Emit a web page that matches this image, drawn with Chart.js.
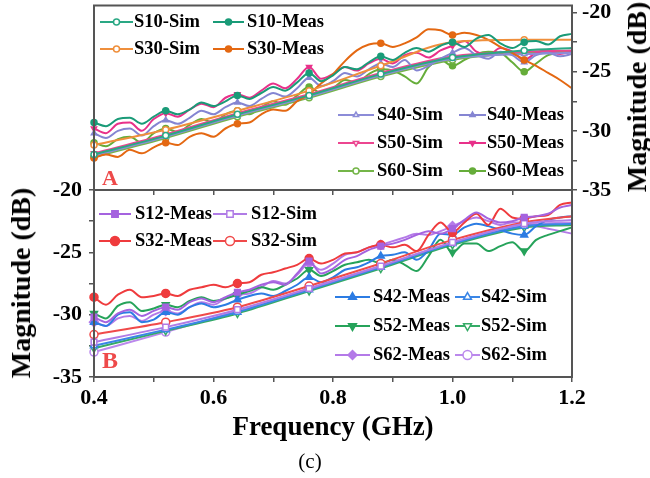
<!DOCTYPE html>
<html>
<head>
<meta charset="utf-8">
<title>S-parameter magnitude</title>
<script src="https://cdn.jsdelivr.net/npm/chart.js@4.4.1/dist/chart.umd.min.js"></script>
<style>
  html, body { margin: 0; padding: 0; background: #fff; }
  #wrap { position: relative; width: 650px; height: 478px; overflow: hidden; }
  #wrap canvas { position: absolute; left: 0; top: 0; }
  .vtitle {
    position: absolute;
    font: bold 28px "Liberation Serif", "Times New Roman", serif;
    line-height: 1;
    white-space: nowrap;
    transform: translate(-50%, -50%) rotate(-90deg);
  }
  #caption {
    position: absolute; left: 310px; top: 461px;
    transform: translate(-50%, -50%);
    font: 21px "Liberation Serif", "Times New Roman", serif;
  }
</style>
</head>
<body>
<div id="wrap">
  <canvas id="chartB" width="650" height="478"></canvas>
  <canvas id="chartA" width="650" height="200"></canvas>
  <div class="vtitle" style="left:637px; top:97px">Magnitude (dB)</div>
  <div class="vtitle" style="left:21px; top:283px">Magnitude (dB)</div>
  <div id="caption">(c)</div>
</div>
<script>
const FONT = '"Liberation Serif", "Times New Roman", serif';

// frequency samples (GHz) of the measured traces and of the simulated ones
const freq = [0.40, 0.42, 0.44, 0.46, 0.48, 0.50, 0.52, 0.54, 0.56, 0.58,
              0.60, 0.62, 0.64, 0.66, 0.68, 0.70, 0.72, 0.74, 0.76, 0.78,
              0.80, 0.82, 0.84, 0.86, 0.88, 0.90, 0.92, 0.94, 0.96, 0.98,
              1.00, 1.02, 1.04, 1.06, 1.08, 1.10, 1.12, 1.14, 1.16, 1.18, 1.20];
const simFreq = [0.40, 0.52, 0.64, 0.76, 0.88, 1.00, 1.12, 1.20];

const xTickLabels = ['0.4', '0.6', '0.8', '1.0', '1.2'];
const yTickLabels = ['-20', '-25', '-30', '-35'];

// panel A (dB)
const s10Sim = [-32.0, -30.4, -28.6, -27.0, -25.2, -23.8, -23.2, -23.0];
const s30Sim = [-31.2, -29.9, -28.3, -26.6, -24.5, -22.5, -22.3, -22.3];
const s40Sim = [-32.1, -30.5, -28.7, -27.1, -25.3, -23.9, -23.5, -23.4];
const s50Sim = [-31.9, -30.3, -28.5, -26.9, -25.1, -23.7, -23.3, -23.2];
const s60Sim = [-32.2, -30.6, -28.8, -27.2, -25.4, -24.0, -23.4, -23.3];

const s10Meas = [-29.3, -29.6, -29.0, -28.9, -29.4, -28.8, -28.3, -28.6, -28.2, -27.6,
                 -27.9, -27.5, -27.0, -27.3, -26.8, -26.3, -26.6, -25.9, -25.1, -25.8,
                 -25.3, -24.6, -24.8, -24.2, -23.7, -24.0, -23.4, -23.0, -23.3, -22.8,
                 -22.5, -22.9, -22.2, -21.9, -22.6, -23.0, -22.5, -22.4, -22.7, -22.0, -21.8];
const s30Meas = [-32.3, -32.0, -32.2, -31.6, -31.9, -31.4, -31.0, -31.2, -30.5, -30.2,
                 -30.5, -29.8, -29.4, -29.3, -28.6, -28.2, -28.3, -27.5, -26.9, -26.0,
                 -25.2, -24.1, -23.2, -22.7, -22.6, -22.9, -22.6, -22.1, -21.4, -21.5,
                 -21.9, -21.7, -21.9, -22.3, -22.9, -23.4, -24.0, -24.5, -25.1, -25.7, -26.4];
const s40Meas = [-30.2, -30.6, -30.0, -29.8, -30.4, -29.6, -29.1, -29.4, -28.9, -28.3,
                 -28.6, -28.0, -27.6, -27.9, -27.3, -26.8, -27.1, -26.4, -25.5, -26.2,
                 -25.8, -25.1, -25.4, -24.8, -24.3, -24.6, -24.0, -24.9, -24.5, -23.9,
                 -23.4, -23.0, -23.6, -23.9, -23.3, -23.6, -24.2, -23.6, -23.4, -23.7, -23.5];
const s50Meas = [-29.8, -30.2, -29.4, -29.3, -30.0, -29.0, -28.5, -28.8, -28.2, -27.7,
                 -28.0, -27.2, -26.9, -27.2, -26.6, -26.0, -26.4, -25.6, -24.6, -25.6,
                 -25.2, -24.6, -24.9, -24.3, -23.9, -24.3, -23.6, -23.4, -23.8, -23.2,
                 -22.8, -22.4, -23.3, -23.6, -23.0, -23.3, -24.0, -23.4, -23.2, -23.5, -23.3];
const s60Meas = [-31.0, -31.3, -30.7, -30.5, -31.0, -30.2, -29.8, -30.1, -29.5, -29.0,
                 -29.3, -28.6, -28.3, -28.6, -28.0, -27.5, -27.8, -27.0, -26.3, -26.8,
                 -26.4, -25.7, -25.9, -25.2, -24.8, -24.9, -25.4, -26.0, -24.6, -24.0,
                 -24.5, -24.0, -23.5, -23.3, -23.4, -24.2, -25.0, -24.3, -23.6, -23.4, -23.3];

// panel B (dB)
const s12Sim = [-32.2, -31.0, -29.6, -27.9, -26.1, -24.2, -22.7, -22.4];
const s32Sim = [-31.6, -30.6, -29.4, -27.7, -25.9, -24.0, -22.6, -22.1];
const s42Sim = [-32.5, -31.2, -29.8, -28.0, -26.2, -24.3, -22.9, -22.7];
const s52Sim = [-32.7, -31.3, -29.9, -28.1, -26.3, -24.4, -23.0, -22.8];
const s62Sim = [-33.0, -31.4, -29.7, -27.9, -26.1, -24.2, -22.8, -22.6];

const s12Meas = [-30.2, -30.6, -29.9, -29.6, -30.1, -29.7, -29.4, -29.6, -29.0, -28.7,
                 -29.0, -28.6, -28.2, -28.0, -27.6, -27.4, -27.6, -26.7, -25.7, -26.7,
                 -26.3, -25.6, -25.3, -24.8, -24.5, -24.3, -24.0, -23.6, -23.3, -23.5,
                 -23.1, -22.4, -21.8, -22.3, -22.6, -22.5, -22.2, -22.1, -21.9, -21.4, -21.2];
const s32Meas = [-28.6, -29.2, -28.4, -28.0, -28.6, -28.5, -28.3, -28.5, -28.0, -27.8,
                 -27.6, -27.8, -27.5, -27.4, -26.8, -26.6, -26.3, -26.0, -25.5, -25.9,
                 -25.6, -25.1, -25.0, -24.6, -24.4, -24.6, -24.4, -24.9, -23.6, -22.6,
                 -23.4, -22.6, -21.9, -22.8, -21.5, -22.2, -22.3, -22.1, -22.0, -21.2, -21.0];
const s42Meas = [-30.6, -30.9, -30.0, -29.8, -30.6, -30.4, -29.8, -30.0, -29.4, -29.1,
                 -29.4, -29.2, -28.8, -28.5, -28.3, -28.5, -28.1, -27.6, -27.0, -27.4,
                 -27.0, -26.4, -26.2, -25.8, -25.3, -25.2, -25.0, -25.6, -24.8, -23.5,
                 -23.6, -23.0, -22.7, -22.9, -23.2, -23.5, -23.6, -22.9, -22.4, -22.2, -22.1];
const s52Meas = [-29.9, -30.3, -29.3, -29.0, -29.7, -29.5, -29.2, -29.4, -28.9, -28.6,
                 -28.9, -28.7, -28.4, -28.1, -27.8, -28.0, -27.6, -27.1, -26.4, -26.9,
                 -26.5, -26.0, -25.8, -25.6, -25.9, -25.6, -26.0, -26.5, -25.3, -24.0,
                 -25.0, -24.3, -24.3, -24.9, -24.5, -24.2, -24.9, -24.0, -23.6, -23.3, -23.0];
const s62Meas = [-30.6, -30.9, -30.3, -30.1, -30.5, -30.0, -29.7, -29.9, -29.4, -29.0,
                 -29.2, -28.7, -28.4, -28.3, -27.8, -27.3, -27.5, -26.8, -25.9, -26.4,
                 -25.9, -25.2, -25.0, -24.6, -24.4, -24.1, -23.8, -23.5, -23.6, -23.3,
                 -22.9, -22.5, -22.2, -22.5, -22.8, -22.6, -22.6, -22.9, -23.1, -23.3, -23.5];

const CIRCLE = { style: 'circle', rot: 0 };
const TRI = { style: 'triangle', rot: 0 };
const TRI_DOWN = { style: 'triangle', rot: 180 };
const SQUARE = { style: 'rect', rot: 0 };
const DIAMOND = { style: 'rectRot', rot: 0 };

// one line dataset; markers every 0.12 GHz, none on the last sample
function makeSet(label, xs, ys, color, shape, hollow, radius) {
  const n = xs.length;
  const every = xs === freq ? 6 : 1;
  return {
    label: label,
    data: xs.map((x, i) => ({ x: x, y: ys[i] })),
    borderColor: color,
    backgroundColor: color,
    borderWidth: 2,
    pointStyle: shape.style,
    pointRotation: shape.rot,
    pointBackgroundColor: hollow ? '#fff' : color,
    pointBorderColor: color,
    pointBorderWidth: 1.5,
    pointRadius: (ctx) => (ctx.dataIndex % every === 0 && ctx.dataIndex < n - 1) ? radius : 0,
    cubicInterpolationMode: 'monotone',
    clip: 10,
  };
}

// frame, in-plot legend groups and the panel letter
const panelDeco = {
  id: 'panelDeco',
  afterDatasetsDraw(chart, args, opts) {
    const ctx = chart.ctx;
    ctx.save();
    opts.groups.forEach((g) => {
      g.rows.forEach((row, r) => {
        row.forEach((label, c) => {
          const ds = chart.data.datasets.find((d) => d.label === label);
          const col = g.cols[c];
          const y = g.rowY[r];
          ctx.strokeStyle = ds.borderColor;
          ctx.lineWidth = 2;
          ctx.beginPath();
          ctx.moveTo(col[0], y);
          ctx.lineTo(col[1], y);
          ctx.stroke();
          ctx.fillStyle = ds.pointBackgroundColor;
          ctx.strokeStyle = ds.pointBorderColor;
          ctx.lineWidth = ds.pointBorderWidth;
          Chart.helpers.drawPoint(ctx, {
            pointStyle: ds.pointStyle,
            rotation: ds.pointRotation,
            radius: opts.markerRadius,
            borderWidth: ds.pointBorderWidth,
          }, (col[0] + col[1]) / 2, y);
          ctx.fillStyle = '#000';
          ctx.font = 'bold 18.5px ' + FONT;
          ctx.textBaseline = 'middle';
          ctx.textAlign = 'left';
          ctx.fillText(label, col[2], y);
        });
      });
    });
    ctx.fillStyle = '#ee4a4a';
    ctx.font = 'bold ' + opts.letterSize + 'px ' + FONT;
    ctx.textBaseline = 'middle';
    ctx.textAlign = 'left';
    ctx.fillText(opts.letter, opts.letterX, opts.letterY);
    ctx.restore();
  },
  afterDraw(chart) {
    const a = chart.chartArea;
    const ctx = chart.ctx;
    ctx.save();
    ctx.strokeStyle = '#555';
    ctx.lineWidth = 2;
    ctx.strokeRect(a.left, a.top, a.right - a.left, a.bottom - a.top);
    ctx.restore();
  },
};

Chart.defaults.font.family = FONT;
Chart.defaults.color = '#000';

const tickFont = { family: FONT, size: 22, weight: 'bold' };
const gridStyle = { drawOnChartArea: false, tickLength: 5, color: '#555', lineWidth: 1.5 };

// fixed axis sizes so both panels line up; no extra room for edge labels
function fixSize(s, width, height) {
  if (width !== null) s.width = width;
  if (height !== null) s.height = height;
  s.paddingTop = 0;
  s.paddingBottom = 0;
  s.paddingLeft = 0;
  s.paddingRight = 0;
}

function xScale(showLabels, height, withTitle) {
  return {
    type: 'linear',
    min: 0.4,
    max: 1.2,
    ticks: {
      display: showLabels,
      stepSize: 0.1,
      autoSkip: false,
      maxRotation: 0,
      padding: 3,
      font: tickFont,
      callback: (v) => {
        const s = v.toFixed(1);
        return xTickLabels.includes(s) ? s : '';
      },
    },
    grid: gridStyle,
    border: { display: false },
    title: {
      display: withTitle,
      text: 'Frequency (GHz)',
      font: { family: FONT, size: 27, weight: 'bold' },
      padding: { top: 0, bottom: 34 },
    },
    afterFit: (s) => fixSize(s, null, height),
  };
}

function yScale(position, max, width, pad) {
  return {
    position: position,
    min: -35,
    max: max,
    ticks: {
      stepSize: 2.5,
      includeBounds: false,
      autoSkip: false,
      padding: pad,
      font: tickFont,
      callback: (v) => (yTickLabels.includes(String(v)) ? String(v) : ''),
    },
    grid: gridStyle,
    border: { display: false },
    afterFit: (s) => fixSize(s, width, null),
  };
}

const baseOptions = {
  responsive: false,
  animation: false,
  devicePixelRatio: 1,
  events: [],
};

// panel A: top, value axis on the right
new Chart(document.getElementById('chartA'), {
  type: 'line',
  data: {
    datasets: [
      makeSet('S10-Sim', simFreq, s10Sim, '#2aa884', CIRCLE, true, 3),
      makeSet('S10-Meas', freq, s10Meas, '#1a9b78', CIRCLE, false, 3),
      makeSet('S30-Sim', simFreq, s30Sim, '#ef8f3c', CIRCLE, true, 3),
      makeSet('S30-Meas', freq, s30Meas, '#e46812', CIRCLE, false, 3),
      makeSet('S40-Sim', simFreq, s40Sim, '#8c8cd8', TRI, true, 3),
      makeSet('S40-Meas', freq, s40Meas, '#8585d2', TRI, false, 3),
      makeSet('S50-Sim', simFreq, s50Sim, '#ec4690', TRI_DOWN, true, 3),
      makeSet('S50-Meas', freq, s50Meas, '#e8318a', TRI_DOWN, false, 3),
      makeSet('S60-Sim', simFreq, s60Sim, '#74b548', CIRCLE, true, 3),
      makeSet('S60-Meas', freq, s60Meas, '#66ad3a', CIRCLE, false, 3),
    ],
  },
  options: Object.assign({}, baseOptions, {
    layout: { padding: { left: 94, top: 4, right: 0, bottom: 0 } },
    scales: {
      x: xScale(false, 10, false),
      y: yScale('right', -19.4, 78, 5),
    },
    plugins: {
      legend: { display: false },
      tooltip: { enabled: false },
      panelDeco: {
        markerRadius: 3,
        letter: 'A', letterX: 102, letterY: 179, letterSize: 22,
        groups: [
          {
            cols: [[100, 133, 134], [213, 244, 247]],
            rowY: [22, 49],
            rows: [['S10-Sim', 'S10-Meas'], ['S30-Sim', 'S30-Meas']],
          },
          {
            cols: [[338, 374, 377], [459, 486, 487]],
            rowY: [115, 143, 171],
            rows: [['S40-Sim', 'S40-Meas'], ['S50-Sim', 'S50-Meas'], ['S60-Sim', 'S60-Meas']],
          },
        ],
      },
    },
  }),
  plugins: [panelDeco],
});

// panel B: bottom, value axis on the left, frequency axis below
new Chart(document.getElementById('chartB'), {
  type: 'line',
  data: {
    datasets: [
      makeSet('S12-Meas', freq, s12Meas, '#a563df', SQUARE, false, 4),
      makeSet('S12-Sim', simFreq, s12Sim, '#b07ce6', SQUARE, true, 4),
      makeSet('S32-Meas', freq, s32Meas, '#ef3b3d', CIRCLE, false, 4),
      makeSet('S32-Sim', simFreq, s32Sim, '#f04a4a', CIRCLE, true, 4),
      makeSet('S42-Meas', freq, s42Meas, '#2c7ce3', TRI, false, 4),
      makeSet('S42-Sim', simFreq, s42Sim, '#3a86e6', TRI, true, 4),
      makeSet('S52-Meas', freq, s52Meas, '#26a35a', TRI_DOWN, false, 4),
      makeSet('S52-Sim', simFreq, s52Sim, '#35ab66', TRI_DOWN, true, 4),
      makeSet('S62-Meas', freq, s62Meas, '#b47ae8', DIAMOND, false, 4.5),
      makeSet('S62-Sim', simFreq, s62Sim, '#bb88ec', CIRCLE, true, 4),
    ],
  },
  options: Object.assign({}, baseOptions, {
    layout: { padding: { left: 0, top: 190, right: 78, bottom: 0 } },
    scales: {
      x: xScale(true, 101, true),
      y: yScale('left', -20, 94, 7),
    },
    plugins: {
      legend: { display: false },
      tooltip: { enabled: false },
      panelDeco: {
        markerRadius: 4.5,
        letter: 'B', letterX: 102, letterY: 362, letterSize: 24,
        groups: [
          {
            cols: [[99, 131, 135], [213, 247, 251]],
            rowY: [214, 241],
            rows: [['S12-Meas', 'S12-Sim'], ['S32-Meas', 'S32-Sim']],
          },
          {
            cols: [[335, 370, 373], [455, 480, 481]],
            rowY: [297, 326, 355],
            rows: [['S42-Meas', 'S42-Sim'], ['S52-Meas', 'S52-Sim'], ['S62-Meas', 'S62-Sim']],
          },
        ],
      },
    },
  }),
  plugins: [panelDeco],
});
</script>
</body>
</html>
